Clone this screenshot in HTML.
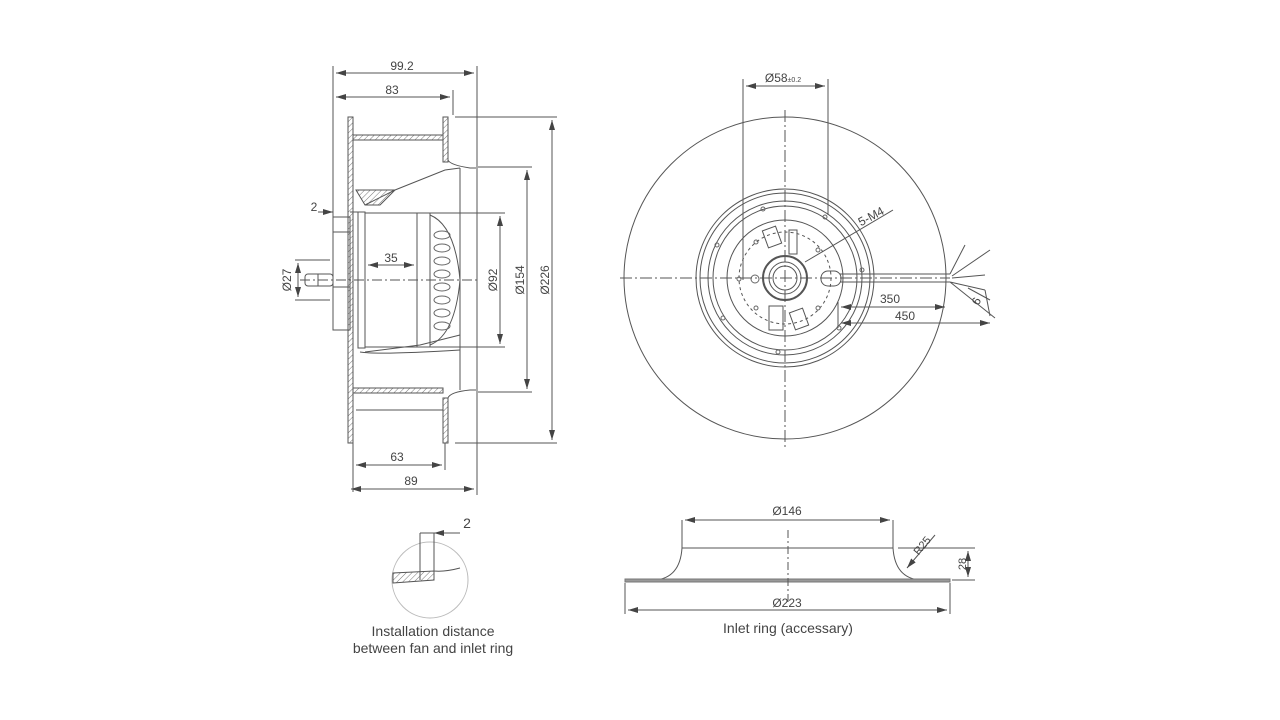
<!DOCTYPE html>
<html><head><meta charset="utf-8"><style>
html,body{margin:0;padding:0;background:#fff}
svg{display:block}
text{font-family:"Liberation Sans",sans-serif;fill:#444}
</style></head><body>
<svg width="1280" height="720" viewBox="0 0 1280 720" xmlns="http://www.w3.org/2000/svg">
<defs>
<marker id="a" viewBox="0 0 10 6" refX="10" refY="3" markerWidth="10" markerHeight="6" orient="auto-start-reverse" markerUnits="userSpaceOnUse"><path d="M0,0 L10,3 L0,6 z" fill="#444"/></marker>
<pattern id="h" width="4" height="4" patternUnits="userSpaceOnUse" patternTransform="rotate(45)"><line x1="0" y1="0" x2="0" y2="4" stroke="#777" stroke-width="1"/></pattern>
</defs>
<g fill="none" stroke="#555" stroke-width="1">
<!-- LEFT VIEW -->
<line x1="333" y1="66" x2="333" y2="330"/>
<line x1="477" y1="66" x2="477" y2="495"/>
<line x1="453" y1="90" x2="453" y2="115"/>
<line x1="336" y1="73" x2="474" y2="73" marker-start="url(#a)" marker-end="url(#a)"/>
<line x1="336" y1="97" x2="450" y2="97" marker-start="url(#a)" marker-end="url(#a)"/>
<!-- flanges -->
<rect x="348" y="117" width="5" height="326" fill="url(#h)"/>
<rect x="443" y="117" width="5" height="45" fill="url(#h)"/>
<rect x="443" y="398" width="5" height="45" fill="url(#h)"/>
<rect x="353" y="135" width="90" height="5" fill="url(#h)"/>
<rect x="353" y="388" width="90" height="5" fill="url(#h)"/>
<line x1="356" y1="410" x2="443" y2="410"/>
<path d="M448,160 Q450,165 470,168 L476,168"/>
<path d="M448,398 Q450,392 470,390 L476,390"/>
<line x1="460" y1="168" x2="460" y2="390"/>
<path d="M356,190 L395,190 L380,205 L365,205 Z" fill="url(#h)"/>
<path d="M365,205 L395,190 L445,170 L460,168"/>
<path d="M365,352 L420,345 L460,335"/>
<path d="M360,352 Q380,355 460,350"/>
<!-- hub plate -->
<rect x="333" y="217" width="17" height="113"/>
<rect x="333" y="232" width="17" height="55"/>
<!-- shaft -->
<rect x="305" y="274" width="28" height="12" rx="3"/>
<line x1="318" y1="274" x2="318" y2="286"/>
<!-- motor -->
<rect x="358" y="212" width="7" height="136"/>
<rect x="365" y="213" width="52" height="134"/>
<path d="M417,213 L430,213 L430,347 L417,347"/>
<path d="M430,215 Q455,225 460,280 Q455,335 430,345"/>
<g stroke="#666">
<ellipse cx="442" cy="235" rx="8" ry="4"/><ellipse cx="442" cy="248" rx="8" ry="4"/>
<ellipse cx="442" cy="261" rx="8" ry="4"/><ellipse cx="442" cy="274" rx="8" ry="4"/>
<ellipse cx="442" cy="287" rx="8" ry="4"/><ellipse cx="442" cy="300" rx="8" ry="4"/>
<ellipse cx="442" cy="313" rx="8" ry="4"/><ellipse cx="442" cy="326" rx="8" ry="4"/>
</g>
<line x1="300" y1="280" x2="480" y2="280" stroke-dasharray="10,3,2,3"/>
<!-- dims -->
<line x1="430" y1="213" x2="505" y2="213"/><line x1="430" y1="347" x2="505" y2="347"/>
<line x1="500" y1="216" x2="500" y2="344" marker-start="url(#a)" marker-end="url(#a)"/>
<line x1="478" y1="167" x2="532" y2="167"/><line x1="478" y1="392" x2="532" y2="392"/>
<line x1="527" y1="170" x2="527" y2="389" marker-start="url(#a)" marker-end="url(#a)"/>
<line x1="455" y1="117" x2="557" y2="117"/><line x1="455" y1="443" x2="557" y2="443"/>
<line x1="552" y1="120" x2="552" y2="440" marker-start="url(#a)" marker-end="url(#a)"/>
<line x1="368" y1="265" x2="414" y2="265" marker-start="url(#a)" marker-end="url(#a)"/>
<line x1="295" y1="260" x2="330" y2="260"/><line x1="295" y1="300" x2="330" y2="300"/>
<line x1="298" y1="263" x2="298" y2="297" marker-start="url(#a)" marker-end="url(#a)"/>
<line x1="318" y1="212" x2="333" y2="212" marker-end="url(#a)"/>
<line x1="350" y1="212" x2="358" y2="212"/>
<line x1="353" y1="443" x2="353" y2="492"/>
<line x1="356" y1="465" x2="442" y2="465" marker-start="url(#a)" marker-end="url(#a)"/>
<line x1="445" y1="443" x2="445" y2="470"/>
<line x1="351" y1="489" x2="474" y2="489" marker-start="url(#a)" marker-end="url(#a)"/>
<!-- RIGHT VIEW -->
<circle cx="785" cy="278" r="161"/>
<circle cx="785" cy="278" r="89"/>
<circle cx="785" cy="278" r="85"/>
<circle cx="785" cy="278" r="77"/>
<circle cx="785" cy="278" r="72"/>
<circle cx="785" cy="278" r="58"/>
<circle cx="785" cy="278" r="46" stroke-dasharray="3,3"/>
<circle cx="785" cy="278" r="22" stroke-width="2"/>
<circle cx="785" cy="278" r="16"/>
<circle cx="785" cy="278" r="12"/>
<line x1="620" y1="278" x2="950" y2="278" stroke-dasharray="12,3,2,3"/>
<line x1="785" y1="110" x2="785" y2="450" stroke-dasharray="12,3,2,3"/>
<g stroke="#666">
<circle cx="763" cy="209" r="2"/><circle cx="825" cy="217" r="2"/><circle cx="717" cy="245" r="2"/>
<circle cx="739" cy="279" r="2"/><circle cx="756" cy="242" r="2"/><circle cx="818" cy="250" r="2"/>
<circle cx="756" cy="308" r="2"/><circle cx="818" cy="308" r="2"/><circle cx="723" cy="318" r="2"/>
<circle cx="778" cy="352" r="2"/><circle cx="839" cy="328" r="2"/><circle cx="862" cy="270" r="2"/>
<circle cx="755" cy="279" r="4"/>
</g>
<rect x="765" y="228" width="14" height="18" transform="rotate(-20 772 237)"/>
<rect x="789" y="230" width="8" height="24"/>
<rect x="769" y="306" width="14" height="24"/>
<rect x="792" y="310" width="14" height="18" transform="rotate(-20 799 319)"/>
<rect x="821" y="271" width="20" height="15" rx="7"/>
<path d="M840,274 L950,274 M840,282 L950,282"/>
<path d="M950,274 L965,245 M952,276 L990,250 M952,278 L985,275 M950,282 L985,290 M950,282 L995,318"/>
<line x1="838" y1="302" x2="838" y2="328"/>
<line x1="841" y1="307" x2="945" y2="307" marker-start="url(#a)" marker-end="url(#a)"/>
<line x1="841" y1="323" x2="990" y2="323" marker-start="url(#a)" marker-end="url(#a)"/>
<line x1="805" y1="262" x2="893" y2="210"/>
<line x1="968" y1="288" x2="990" y2="300"/>
<line x1="985" y1="290" x2="990" y2="316"/>
<line x1="743" y1="79" x2="743" y2="280"/>
<line x1="828" y1="79" x2="828" y2="215"/>
<line x1="746" y1="86" x2="825" y2="86" marker-start="url(#a)" marker-end="url(#a)"/>
<!-- DETAIL -->
<circle cx="430" cy="580" r="38" stroke="#bbb"/>
<path d="M420,540 L420,580 M434,534 L434,571 Q445,572 460,568"/>
<path d="M393,583 L434,580 L434,571 L393,573 Z" fill="url(#h)"/>
<line x1="420" y1="533" x2="434" y2="533"/>
<line x1="434" y1="533" x2="460" y2="533" marker-start="url(#a)"/>
<line x1="420" y1="533" x2="420" y2="540"/><line x1="434" y1="533" x2="434" y2="540"/>
<!-- INLET RING -->
<line x1="682" y1="520" x2="682" y2="548"/><line x1="893" y1="520" x2="893" y2="548"/>
<line x1="685" y1="520" x2="890" y2="520" marker-start="url(#a)" marker-end="url(#a)"/>
<line x1="682" y1="548" x2="893" y2="548"/>
<path d="M682,548 Q680,578 655,580 M893,548 Q895,578 920,580"/>
<rect x="625" y="579" width="325" height="3" fill="#999" stroke="#777"/>
<line x1="788" y1="530" x2="788" y2="602" stroke-dasharray="8,3,2,3"/>
<line x1="625" y1="583" x2="625" y2="614"/><line x1="950" y1="583" x2="950" y2="614"/>
<line x1="628" y1="610" x2="947" y2="610" marker-start="url(#a)" marker-end="url(#a)"/>
<line x1="898" y1="548" x2="975" y2="548"/><line x1="952" y1="580" x2="975" y2="580"/>
<line x1="968" y1="551" x2="968" y2="577" marker-start="url(#a)" marker-end="url(#a)"/>
<line x1="935" y1="535" x2="907" y2="568" marker-end="url(#a)"/>
</g>
<g font-size="12" text-anchor="middle">
<text x="402" y="70">99.2</text>
<text x="392" y="94">83</text>
<text x="314" y="211">2</text>
<text x="391" y="262">35</text>
<text x="397" y="461">63</text>
<text x="411" y="485">89</text>
<text transform="translate(291 280) rotate(-90)">Ø27</text>
<text transform="translate(497 280) rotate(-90)">Ø92</text>
<text transform="translate(524 280) rotate(-90)">Ø154</text>
<text transform="translate(549 280) rotate(-90)">Ø226</text>
<text x="783" y="82">Ø58<tspan font-size="7">±0.2</tspan></text>
<text transform="translate(873 220) rotate(-28)">5-M4</text>
<text x="890" y="303">350</text>
<text x="905" y="320">450</text>
<text transform="translate(980 303) rotate(-62)">6</text>
<text x="467" y="528" font-size="14">2</text>
<text x="787" y="515">Ø146</text>
<text x="787" y="607">Ø223</text>
<text transform="translate(925 548) rotate(-50)" font-size="11">R25</text>
<text transform="translate(966 564) rotate(-90)" font-size="11">28</text>
<text x="433" y="636" font-size="14">Installation distance</text>
<text x="433" y="653" font-size="14">between fan and inlet ring</text>
<text x="788" y="633" font-size="14">Inlet ring (accessary)</text>
</g>
</svg>
</body></html>
